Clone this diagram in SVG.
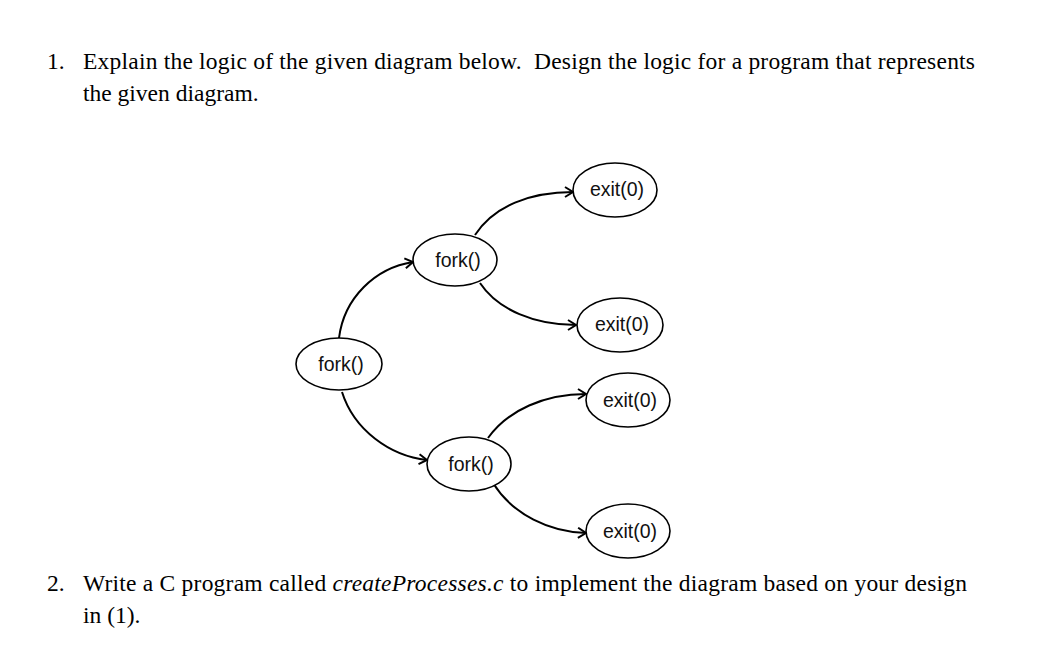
<svg xmlns="http://www.w3.org/2000/svg" width="1042" height="647" viewBox="0 0 1042 647">
<defs>
<style>
.q{font-family:"Liberation Serif","Times New Roman",serif;font-size:23.5px;fill:#000}
.n ellipse{fill:#fff;stroke:#000;stroke-width:1.6}
.n text{font-family:"Liberation Sans",Arial,sans-serif;font-size:19.5px;fill:#111;text-anchor:middle}
.c path{fill:none;stroke:#000;stroke-width:2}
</style>
<marker id="ah" markerUnits="userSpaceOnUse" markerWidth="14" markerHeight="14" refX="10" refY="6" orient="auto">
<path d="M2,1 L10,6 L2,11" fill="none" stroke="#000" stroke-width="2"/>
</marker>
</defs>
<rect width="1042" height="647" fill="#fff"/>
<g id="question1">
<text class="q" x="47" y="69">1.</text>
<text class="q" x="83" y="69" textLength="892" lengthAdjust="spacing" xml:space="preserve">Explain the logic of the given diagram below.  Design the logic for a program that represents</text>
<text class="q" x="83" y="101">the given diagram.</text>
</g>
<g id="question2">
<text class="q" x="47" y="591">2.</text>
<text class="q" x="83" y="591" textLength="884" lengthAdjust="spacing">Write a C program called <tspan font-style="italic">createProcesses.c</tspan> to implement the diagram based on your design</text>
<text class="q" x="83" y="623">in (1).</text>
</g>
<g class="c" id="connectors">
<path d="M339,338 C344,298 375,268 413,262" marker-end="url(#ah)"/>
<path d="M475,235 C494,206 530,192 573,192" marker-end="url(#ah)"/>
<path d="M480,283 C498,310 535,325 576,325" marker-end="url(#ah)"/>
<path d="M342,392 C354,430 390,456 427,460" marker-end="url(#ah)"/>
<path d="M488,438 C508,410 545,394 586,394" marker-end="url(#ah)"/>
<path d="M493,483 C513,515 550,532 586,533" marker-end="url(#ah)"/>
</g>
<g class="n" id="fork1"><ellipse cx="339" cy="364" rx="43" ry="26"/><text x="341" y="371">fork()</text></g>
<g class="n" id="fork2"><ellipse cx="455" cy="260" rx="42" ry="26"/><text x="458" y="267">fork()</text></g>
<g class="n" id="fork3"><ellipse cx="469" cy="464" rx="42" ry="27"/><text x="471" y="471">fork()</text></g>
<g class="n" id="exit1"><ellipse cx="615" cy="190" rx="42" ry="27"/><text x="617" y="196">exit(0)</text></g>
<g class="n" id="exit2"><ellipse cx="620" cy="325" rx="43" ry="27"/><text x="622" y="331">exit(0)</text></g>
<g class="n" id="exit3"><ellipse cx="628" cy="400" rx="42" ry="27"/><text x="630" y="407">exit(0)</text></g>
<g class="n" id="exit4"><ellipse cx="628" cy="531" rx="42" ry="27"/><text x="630" y="538">exit(0)</text></g>
</svg>
